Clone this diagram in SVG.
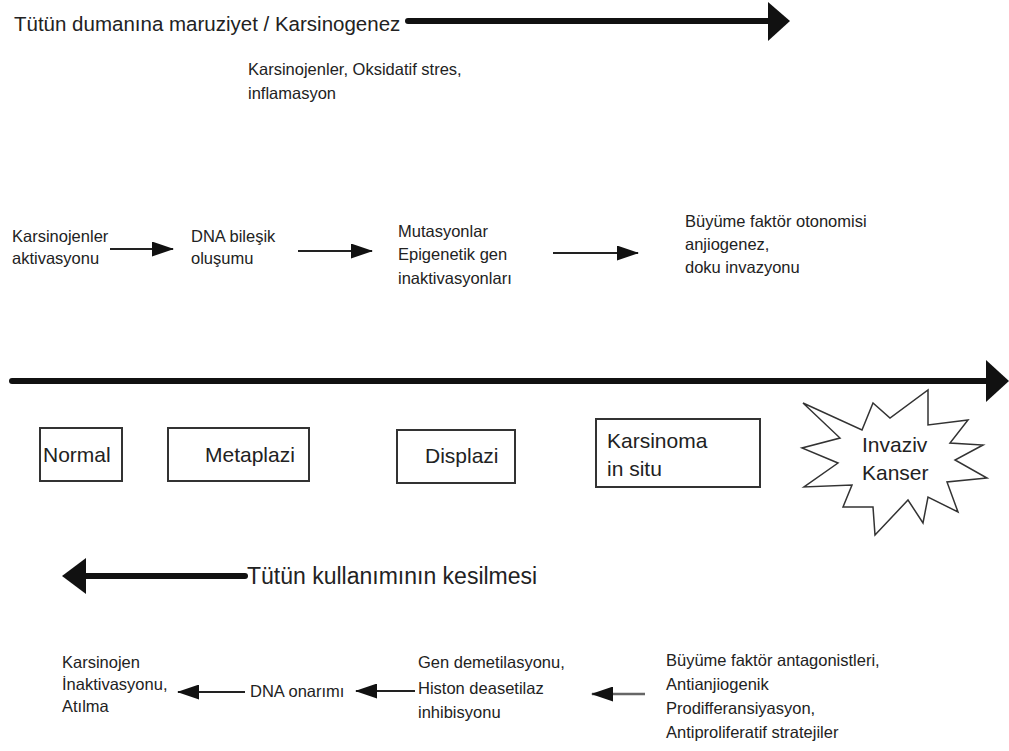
<svg xmlns="http://www.w3.org/2000/svg" width="1009" height="751" viewBox="0 0 1009 751">
<style>
text { font-family: "Liberation Sans", Arial, sans-serif; fill: #222; }
.sm { font-size: 16.5px; }
.md { font-size: 21px; }
.lg { font-size: 20.5px; }
.xl { font-size: 23px; }
.box { fill: #fff; stroke: #333; stroke-width: 2; }
.thin { stroke: #222; stroke-width: 2; fill: none; }
.gray { stroke: #666; stroke-width: 2.5; fill: none; }
.thick { stroke: #111; stroke-width: 6; stroke-linecap: round; fill: none; }
.head { fill: #111; }
</style>
<defs>
<marker id="ahs" markerWidth="22" markerHeight="15" refX="21" refY="7.5" orient="auto" markerUnits="userSpaceOnUse" viewBox="0 0 22 15">
<path d="M0,0 L22,7.5 L0,15 Z" fill="#111"/>
</marker>
</defs>

<g id="title-top">
<text class="lg" x="14" y="31">Tütün dumanına maruziyet / Karsinogenez</text>
</g>
<g id="factors-top">
<text class="sm" x="248" y="75">Karsinojenler, Oksidatif stres,</text>
<text class="sm" x="248" y="99">inflamasyon</text>
</g>

<g id="n-karsinojen-akt">
<text class="sm" x="12" y="242">Karsinojenler</text>
<text class="sm" x="12" y="264">aktivasyonu</text>
</g>
<g id="n-dna-bilesik">
<text class="sm" x="191" y="242">DNA bileşik</text>
<text class="sm" x="191" y="264">oluşumu</text>
</g>
<g id="n-mutasyon">
<text class="sm" x="398" y="237">Mutasyonlar</text>
<text class="sm" x="398" y="260">Epigenetik gen</text>
<text class="sm" x="398" y="284">inaktivasyonları</text>
</g>
<g id="n-buyume">
<text class="sm" x="685" y="227">Büyüme faktör otonomisi</text>
<text class="sm" x="685" y="250">anjiogenez,</text>
<text class="sm" x="685" y="273">doku invazyonu</text>
</g>

<g id="n-normal">
<rect class="box" x="40" y="428" width="82" height="53"/>
<text class="md" x="43" y="462">Normal</text>
</g>
<g id="n-metaplazi">
<rect class="box" x="168" y="428" width="141" height="53"/>
<text class="md" x="205" y="462">Metaplazi</text>
</g>
<g id="n-displazi">
<rect class="box" x="397" y="430" width="118" height="53"/>
<text class="md" x="425" y="463">Displazi</text>
</g>
<g id="n-karsinoma">
<rect class="box" x="596" y="419" width="164" height="68"/>
<text class="md" x="607" y="448">Karsinoma</text>
<text class="md" x="607" y="476">in situ</text>
</g>
<g id="n-invaziv">
<polygon fill="#fff" stroke="#333" stroke-width="1.5" points="803,403 862,430 873,403 890,418 928,390 928,425 968,420 950,443 983,445 955,460 987,478 947,482 958,512 928,497 923,523 908,500 875,535 873,507 843,507 852,485 804,487 838,463 802,448 840,438"/>
<text class="md" x="862" y="452">Invaziv</text>
<text class="md" x="862" y="480">Kanser</text>
</g>

<g id="title-bottom">
<text class="xl" x="247" y="584">Tütün kullanımının kesilmesi</text>
</g>

<g id="n-karsinojen-inakt">
<text class="sm" x="62" y="668">Karsinojen</text>
<text class="sm" x="62" y="690">İnaktivasyonu,</text>
<text class="sm" x="62" y="712">Atılma</text>
</g>
<g id="n-dna-onarimi">
<text class="sm" x="250" y="697">DNA onarımı</text>
</g>
<g id="n-gen-demetil">
<text class="sm" x="418" y="668">Gen demetilasyonu,</text>
<text class="sm" x="418" y="694">Histon deasetilaz</text>
<text class="sm" x="418" y="718">inhibisyonu</text>
</g>
<g id="n-buyume-ant">
<text class="sm" x="666" y="666">Büyüme faktör antagonistleri,</text>
<text class="sm" x="666" y="690">Antianjiogenik</text>
<text class="sm" x="666" y="714">Prodifferansiyasyon,</text>
<text class="sm" x="666" y="738">Antiproliferatif stratejiler</text>
</g>

<g id="connectors">
<line class="thick" x1="408" y1="21" x2="772" y2="21"/>
<polygon class="head" points="768,2 790,21 768,41"/>
<line class="thick" x1="12" y1="381" x2="990" y2="381"/>
<polygon class="head" points="986,360 1009,381 986,402"/>
<line class="thick" x1="83" y1="576" x2="245" y2="576"/>
<polygon class="head" points="86,558 62,576 86,594"/>

<line class="thin" x1="110" y1="249" x2="173" y2="249" marker-end="url(#ahs)"/>
<line class="thin" x1="298" y1="251" x2="372" y2="251" marker-end="url(#ahs)"/>
<line class="thin" x1="553" y1="253" x2="638" y2="253" marker-end="url(#ahs)"/>

<line class="thin" x1="245" y1="692" x2="178" y2="692" marker-end="url(#ahs)"/>
<line class="thin" x1="415" y1="691" x2="356" y2="691" marker-end="url(#ahs)"/>
<line class="gray" x1="645" y1="694" x2="592" y2="694" marker-end="url(#ahs)"/>
</g>
</svg>
